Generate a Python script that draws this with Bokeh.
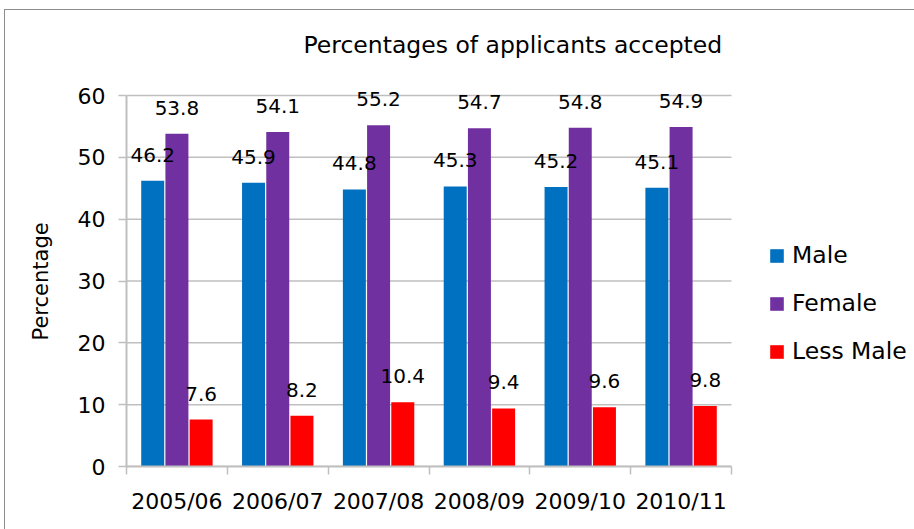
from bokeh.plotting import figure
from bokeh.models import (ColumnDataSource, Range1d, FixedTicker, LabelSet, Legend,
                          LegendItem, Title, InlineStyleSheet)
from bokeh.core.properties import value
from bokeh.embed import file_html
from bokeh.resources import INLINE

categories = ["2005/06", "2006/07", "2007/08", "2008/09", "2009/10", "2010/11"]
male = [46.2, 45.9, 44.8, 45.3, 45.2, 45.1]
female = [53.8, 54.1, 55.2, 54.7, 54.8, 54.9]
less_male = [7.6, 8.2, 10.4, 9.4, 9.6, 9.8]
series_names = ["Male", "Female", "Less Male"]
colors = ["#0070C0", "#7030A0", "#FF0000"]
y_ticks = [0, 10, 20, 30, 40, 50, 60]

FONT = "DejaVu Sans"
W, H = 914, 529
LEFT, TOP, BOTTOM = 126, 62, 63
PLOT_W, PLOT_H = 605, 371          # pixel size of the 0..6 x 0..60 area
EXTRA_TOP = 33                      # room above 60 for data labels
n = len(categories)
y_max = y_ticks[-1]
x_end = n * (W - LEFT) / PLOT_W
y_end = y_max * (PLOT_H + EXTRA_TOP) / PLOT_H

p = figure(width=W, height=H, output_backend="svg", toolbar_location=None,
           x_range=Range1d(0, x_end), y_range=Range1d(0, y_end),
           min_border_left=LEFT, min_border_right=0, min_border_top=TOP,
           min_border_bottom=BOTTOM, background_fill_color="white",
           border_fill_color="white")
p.outline_line_color = None
p.stylesheets = [InlineStyleSheet(css="""
:host { position: relative !important; overflow: hidden !important; }
:host::after { content: ''; position: absolute; left: 4px; top: 9px;
  width: 2000px; height: 2000px; border: 1px solid #8C8C8C;
  box-sizing: border-box; pointer-events: none; z-index: 10; }
""")]

# title
t = Title(text="Percentages of applicants accepted", align="left", offset=177,
          text_font=FONT, text_font_size="23.5px", text_font_style="normal",
          text_color="black", standoff=7)
p.title = t

grid_col = "#BFBFBF"
p.xgrid.grid_line_color = None
p.ygrid.grid_line_color = None
p.segment(x0=[0] * len(y_ticks), x1=[n] * len(y_ticks), y0=y_ticks, y1=y_ticks,
          line_color=grid_col, line_width=1.5)

centers = [i + 0.5 for i in range(n)]
offsets = [-0.24, 0.0, 0.24]
bw = 0.228
renderers = []
for vals, off, col, name in zip([male, female, less_male], offsets, colors, series_names):
    src = ColumnDataSource(dict(x=[c + off for c in centers], top=vals,
                                lab=[f"{v:.1f}" for v in vals]))
    r = p.vbar(x="x", top="top", width=bw, bottom=0, source=src, fill_color=col,
               line_color=None)
    renderers.append((name, r))
    p.add_layout(LabelSet(x="x", y="top", text="lab", source=src, y_offset=19,
                          text_align="center", text_baseline="alphabetic",
                          text_font=value(FONT), text_font_size=value("20px"),
                          text_color="black"))

# axes
p.xaxis.bounds = (0, n)
p.xaxis.ticker = FixedTicker(ticks=centers, minor_ticks=list(range(n + 1)))
p.xaxis.major_label_overrides = {c: lab for c, lab in zip(centers, categories)}
p.xaxis.major_tick_line_color = None
p.xaxis.minor_tick_line_color = grid_col
p.xaxis.minor_tick_line_width = 1.5
p.xaxis.minor_tick_out = 8
p.xaxis.minor_tick_in = 0
p.xaxis.axis_line_color = grid_col
p.xaxis.axis_line_width = 2
p.xaxis.major_label_text_font = FONT
p.xaxis.major_label_text_font_size = "22px"
p.xaxis.major_label_text_color = "black"
p.xaxis.major_label_standoff = 14

p.yaxis.bounds = (0, y_max)
p.yaxis.ticker = FixedTicker(ticks=y_ticks)
p.yaxis.minor_tick_line_color = None
p.yaxis.major_tick_out = 8
p.yaxis.major_tick_in = 0
p.yaxis.major_tick_line_color = grid_col
p.yaxis.major_tick_line_width = 1.5
p.yaxis.axis_line_color = grid_col
p.yaxis.axis_line_width = 2
p.yaxis.major_label_text_font = FONT
p.yaxis.major_label_text_font_size = "22px"
p.yaxis.major_label_text_color = "black"
p.yaxis.major_label_standoff = 13

# y axis title, centred on the 0..60 area rather than the whole frame
p.add_layout(Title(text="Percentage", align="left", offset=126, standoff=43,
                   text_font=FONT, text_font_size="21px", text_font_style="normal",
                   text_color="black"), "left")

legend = Legend(items=[LegendItem(label=nm, renderers=[r]) for nm, r in renderers],
                location=(642, 101), orientation="vertical",
                label_text_font=FONT, label_text_font_size="23.5px",
                label_text_color="black", glyph_width=17, glyph_height=17,
                label_standoff=7, spacing=20, padding=0, margin=0,
                border_line_color=None, background_fill_alpha=0)
p.add_layout(legend, "center")

open("out.html", "w").write(file_html(p, INLINE))
